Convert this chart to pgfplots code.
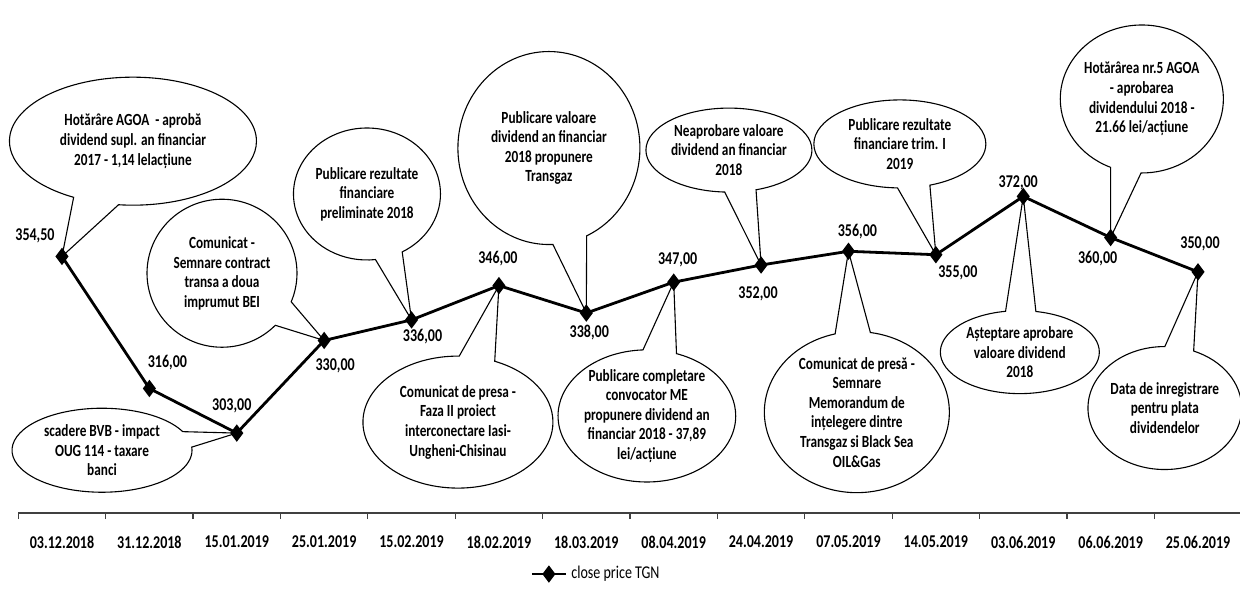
\documentclass[border=0pt]{standalone}
\usepackage{fontspec}
\setmainfont{Carlito}[FakeStretch=0.78]
\usepackage{pgfplots}
\pgfplotsset{compat=1.18}
\usepackage{pgfplotstable}
\usetikzlibrary{shapes.callouts}

% close price TGN, with label offsets (pt) for each value
\pgfplotstableread{
x y dx dy
0 354.5 -13.5 10.5
1 316 9 13
2 303 -2.5 13.5
3 330 5.5 -12.5
4 336 5.5 -8.5
5 346 -0.5 13.5
6 338 1.5 -9.5
7 347 2 11
8 352 -1.5 -14.5
9 356 4.5 10
10 355 11 -9
11 372 -2.5 7
12 360 -6.5 -10.5
13 350 1 14
}\prices

\tikzset{bub/.style={ellipse callout, draw=black, line width=0.55pt, inner sep=0pt,
  align=center, font=\bfseries\fontsize{8.5}{9.8}\selectfont, callout pointer arc=22}}

\begin{document}
\begin{tikzpicture}
\useasboundingbox (0,0) rectangle (620pt,294.5pt);
\begin{axis}[
  at={(9.15pt,38pt)}, anchor=south west,
  width=611.7pt, height=256.4pt, scale only axis,
  xmin=-0.5, xmax=13.5, ymin=279.7, ymax=429.2,
  axis x line*=bottom, axis y line=none,
  clip=false,
  xtick={0,...,13},
  xticklabels={03.12.2018,31.12.2018,15.01.2019,25.01.2019,15.02.2019,18.02.2019,18.03.2019,
    08.04.2019,24.04.2019,07.05.2019,14.05.2019,03.06.2019,06.06.2019,25.06.2019},
  minor xtick={-0.5,0.5,...,13.5},
  major tick length=0pt, minor tick length=3pt, tick align=outside,
  tick style={black!75, line width=0.6pt},
  x axis line style={black!75, line width=0.6pt},
  ytick=\empty,
  xticklabel style={font=\bfseries\fontsize{9}{10}\selectfont, yshift=-8pt},
  /pgf/number format/.cd, fixed, fixed zerofill, precision=2, use comma, 1000 sep={},
    assume math mode=true,
  /pgfplots/.cd,
  legend style={at={(axis description cs:0.473,-0.119)}, anchor=center, draw=none,
    font=\fontsize{9}{10}\selectfont},
]
\addplot[black, line width=1.4pt, mark=diamond*, mark size=3.2pt,
  mark options={solid, fill=black},
  nodes near coords, point meta=y,
  visualization depends on={\thisrow{dx}\as\dx},
  visualization depends on={\thisrow{dy}\as\dy},
  every node near coord/.append style={anchor=center, xshift=\dx pt, yshift=\dy pt,
    font=\bfseries\fontsize{9}{10}\selectfont}]
  table[x=x, y=y] {\prices};
\addlegendentry{close price TGN}

\node[bub, minimum width=123.5pt, minimum height=64pt, callout absolute pointer={(axis cs:0,354.5)}]
  at (axis cs:0.812,388.1) {Hotărâre AGOA\ \ - aprobă\\dividend supl. an financiar\\2017 - 1,14 lelacțiune};
\node[bub, minimum width=75pt, minimum height=74pt, callout absolute pointer={(axis cs:3,330)}]
  at (axis cs:1.831,349.6) {Comunicat -\\Semnare contract\\transa a doua\\imprumut BEI};
\node[bub, minimum width=90pt, minimum height=42pt, callout absolute pointer={(axis cs:2,303)}]
  at (axis cs:0.458,298.0) {scadere BVB - impact\\OUG 114 - taxare\\banci};
\node[bub, minimum width=73.5pt, minimum height=66pt, callout absolute pointer={(axis cs:4,336)}]
  at (axis cs:3.490,372.7) {Publicare rezultate\\financiare\\preliminate 2018};
\node[bub, minimum width=95pt, minimum height=66pt, callout absolute pointer={(axis cs:5,346)}]
  at (axis cs:4.531,306.2) {Comunicat de presa -\\Faza II proiect\\interconectare Iasi-\\Ungheni-Chisinau};
\node[bub, minimum width=91pt, minimum height=96.5pt, callout absolute pointer={(axis cs:6,338)}]
  at (axis cs:5.572,386.1) {Publicare valoare\\dividend an financiar\\2018 propunere\\Transgaz};
\node[bub, minimum width=81.5pt, minimum height=64pt, callout absolute pointer={(axis cs:7,347)}]
  at (axis cs:6.693,308.0) {Publicare completare\\convocator ME\\propunere dividend an\\financiar 2018 - 37,89\\lei/acțiune};
\node[bub, minimum width=83pt, minimum height=42pt, callout absolute pointer={(axis cs:8,352)}]
  at (axis cs:7.632,385.5) {Neaprobare valoare\\dividend an financiar\\2018};
\node[bub, minimum width=92.5pt, minimum height=80.5pt, callout absolute pointer={(axis cs:9,356)}]
  at (axis cs:9.096,309.1) {Comunicat de presă -\\Semnare\\Memorandum de\\ințelegere dintre\\Transgaz si Black Sea\\OIL\&Gas};
\node[bub, minimum width=86pt, minimum height=44pt, callout absolute pointer={(axis cs:10,355)}]
  at (axis cs:9.588,387.3) {Publicare rezultate\\financiare trim. I\\2019};
\node[bub, minimum width=79.5pt, minimum height=41.5pt, callout absolute pointer={(axis cs:11,372)}]
  at (axis cs:10.961,326.6) {Așteptare aprobare\\valoare dividend\\2018};
\node[bub, minimum width=77.5pt, minimum height=74pt, callout absolute pointer={(axis cs:12,360)}]
  at (axis cs:12.357,400.4) {Hotărârea nr.5 AGOA\\- aprobarea\\dividendului 2018 -\\21.66 lei/acțiune};
\node[bub, minimum width=76.5pt, minimum height=61.5pt, callout absolute pointer={(axis cs:13,350)}]
  at (axis cs:12.620,310.3) {Data de inregistrare\\pentru plata\\dividendelor};
\end{axis}
\end{tikzpicture}
\end{document}
